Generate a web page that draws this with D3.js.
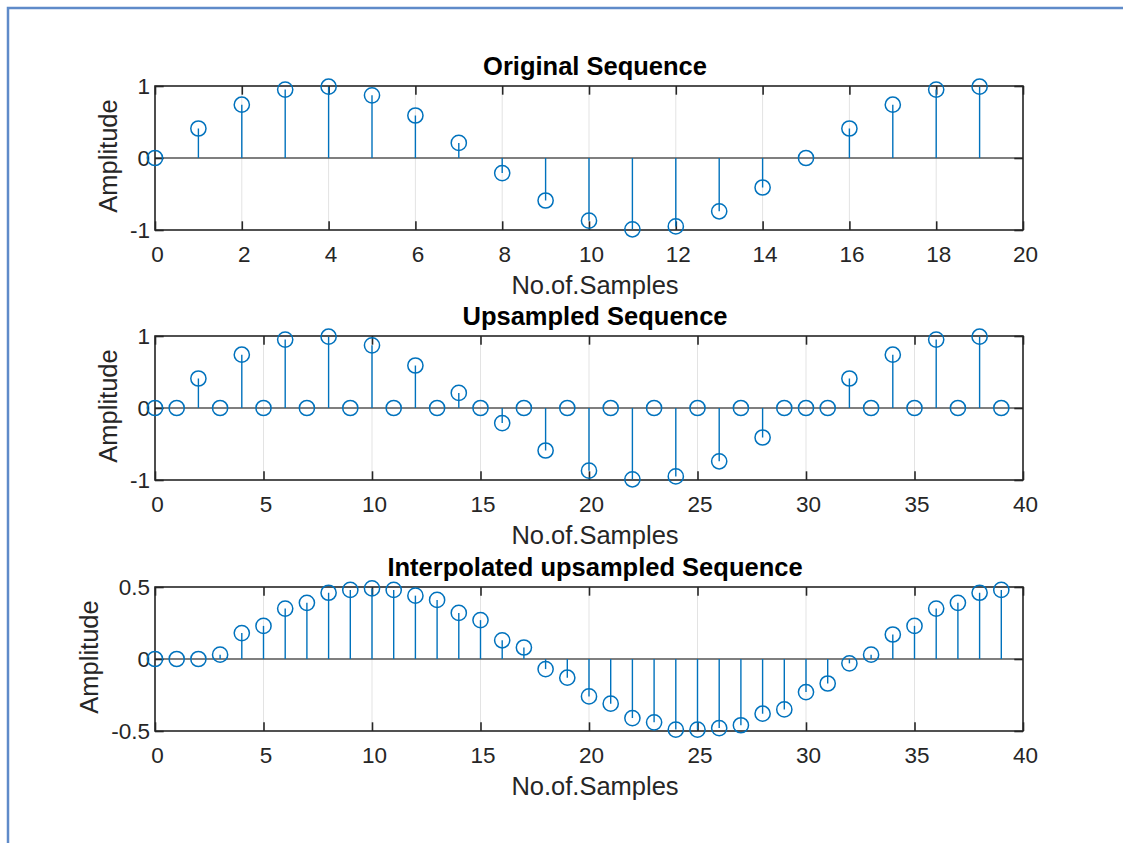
<!DOCTYPE html>
<html>
<head>
<meta charset="utf-8">
<script src="https://cdn.jsdelivr.net/npm/d3@7"></script>
<style>
  body { margin: 0; background: #fff; }
  svg { display: block; font-family: "Liberation Sans", Arial, sans-serif; }
</style>
</head>
<body>
<svg id="fig"></svg>
<script>
// values
var original = [0, 0.41, 0.74, 0.95, 0.99, 0.87, 0.59, 0.21, -0.21, -0.59,
                -0.87, -0.99, -0.95, -0.74, -0.41, 0, 0.41, 0.74, 0.95, 0.99];
var upsampled = [0, 0, 0.41, 0, 0.74, 0, 0.95, 0, 0.99, 0,
                 0.87, 0, 0.59, 0, 0.21, 0, -0.21, 0, -0.59, 0,
                 -0.87, 0, -0.99, 0, -0.95, 0, -0.74, 0, -0.41, 0,
                 0, 0, 0.41, 0, 0.74, 0, 0.95, 0, 0.99, 0];
var interpolated = [0, 0, 0, 0.03, 0.18, 0.23, 0.35, 0.39, 0.46, 0.48,
                    0.49, 0.48, 0.44, 0.41, 0.32, 0.27, 0.13, 0.08, -0.07, -0.13,
                    -0.26, -0.31, -0.41, -0.44, -0.49, -0.49, -0.48, -0.46, -0.38, -0.35,
                    -0.23, -0.17, -0.03, 0.03, 0.17, 0.23, 0.35, 0.39, 0.46, 0.48];
var titles = ["Original Sequence", "Upsampled Sequence", "Interpolated upsampled Sequence"];
var xMax = [20, 40, 40];
var xTicks = [d3.range(0, 21, 2), d3.range(0, 41, 5), d3.range(0, 41, 5)];
var yLim = [[-1, 1], [-1, 1], [-0.5, 0.5]];
var yTicks = [[-1, 0, 1], [-1, 0, 1], [-0.5, 0, 0.5]];
var series = [original, upsampled, interpolated];

var W = 1123, H = 843;
var svg = d3.select("#fig").attr("width", W).attr("height", H);

// window frame
svg.append("path")
    .attr("d", "M8,843 L8,8 L1123,8")
    .attr("fill", "none")
    .attr("stroke", "#5f8bc9")
    .attr("stroke-width", 2.5);

var left = 155, right = 1023, plotH = 144;
var tops = [86, 336, 587];
var tickLen = 8.7;
var ink = "#262626", blue = "#0072BD";

tops.forEach(function(top, i) {
    var x = d3.scaleLinear().domain([0, xMax[i]]).range([left, right]);
    var y = d3.scaleLinear().domain(yLim[i]).range([top + plotH, top]);
    var g = svg.append("g");
    var data = series[i];

    // vertical grid
    g.selectAll(".grid").data(xTicks[i]).enter().append("line")
        .attr("x1", function(d) { return x(d); })
        .attr("x2", function(d) { return x(d); })
        .attr("y1", top).attr("y2", top + plotH)
        .attr("stroke", "#e3e3e3").attr("stroke-width", 1);

    // stem baseline
    g.append("line")
        .attr("x1", left).attr("x2", right)
        .attr("y1", y(0)).attr("y2", y(0))
        .attr("stroke", "#555").attr("stroke-width", 1.3);

    // axes
    var fmt = function(d) { return String(d); };
    var xb = g.append("g").attr("transform", "translate(0," + (top + plotH) + ")")
        .call(d3.axisBottom(x).tickValues(xTicks[i]).tickFormat(fmt).tickSize(-tickLen).tickPadding(16));
    var xt = g.append("g").attr("transform", "translate(0," + top + ")")
        .call(d3.axisTop(x).tickValues(xTicks[i]).tickFormat("").tickSize(-tickLen));
    var yl = g.append("g").attr("transform", "translate(" + left + ",0)")
        .call(d3.axisLeft(y).tickValues(yTicks[i]).tickFormat(fmt).tickSize(-tickLen).tickPadding(5));
    var yr = g.append("g").attr("transform", "translate(" + right + ",0)")
        .call(d3.axisRight(y).tickValues(yTicks[i]).tickFormat("").tickSize(-tickLen));
    [xb, xt, yl, yr].forEach(function(a) {
        a.select(".domain").remove();
        a.selectAll("line").attr("stroke", ink).attr("stroke-width", 1.6);
        a.selectAll("text").attr("fill", ink).style("font-size", "22.5px")
            .style("font-family", "'Liberation Sans', Arial, sans-serif");
    });
    xb.selectAll("text").attr("dx", 2);

    // box
    g.append("rect")
        .attr("x", left).attr("y", top)
        .attr("width", right - left).attr("height", plotH)
        .attr("fill", "none").attr("stroke", ink).attr("stroke-width", 1.6);

    // stems
    g.selectAll(".stem").data(data).enter().append("line")
        .attr("x1", function(d, k) { return x(k); })
        .attr("x2", function(d, k) { return x(k); })
        .attr("y1", y(0))
        .attr("y2", function(d) { return y(d); })
        .attr("stroke", blue).attr("stroke-width", 1.4);
    g.selectAll(".mark").data(data).enter().append("circle")
        .attr("cx", function(d, k) { return x(k); })
        .attr("cy", function(d) { return y(d); })
        .attr("r", 7.6)
        .attr("fill", "none").attr("stroke", blue).attr("stroke-width", 1.5);

    // title and labels
    var cx = (left + right) / 2 + 6;
    g.append("text").attr("x", cx).attr("y", top - 11)
        .attr("text-anchor", "middle").attr("fill", "#000")
        .style("font-size", "25.5px").style("font-weight", "bold")
        .text(titles[i]);
    g.append("text").attr("x", cx).attr("y", top + plotH + 64)
        .attr("text-anchor", "middle").attr("fill", ink)
        .style("font-size", "25.5px")
        .text("No.of.Samples");
    var tickLeft = d3.min(yl.selectAll("text").nodes(), function(n) { return n.getBBox().x; }) + left;
    var lx = tickLeft - 13;
    g.append("text")
        .attr("transform", "translate(" + lx + "," + (top + plotH / 2 - 2) + ") rotate(-90)")
        .attr("text-anchor", "middle").attr("fill", ink)
        .style("font-size", "25.5px")
        .text("Amplitude");
});
</script>
</body>
</html>
